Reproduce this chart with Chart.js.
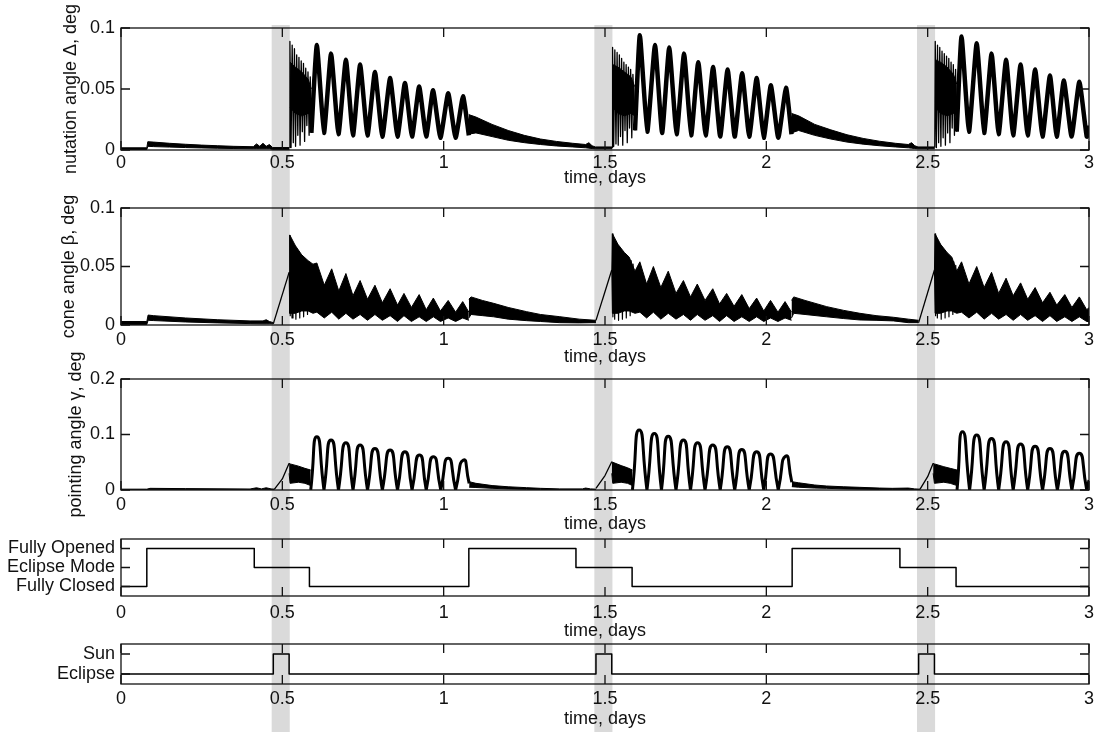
<!DOCTYPE html>
<html>
<head>
<meta charset="utf-8">
<script src="https://cdn.jsdelivr.net/npm/chart.js@4.4.1/dist/chart.umd.min.js"></script>
<style>
  body { margin: 0; background: #fff; }
  #wrap { position: relative; width: 1098px; height: 732px; overflow: hidden; }
  canvas { position: absolute; left: 0; }
</style>
</head>
<body>
<div id="wrap">
  <canvas id="shade" width="1098" height="732" style="top:0"></canvas>
  <canvas id="nut" width="1098" height="189" style="top:0"></canvas>
  <canvas id="beta" width="1098" height="183" style="top:185px"></canvas>
  <canvas id="gam" width="1098" height="190" style="top:345px"></canvas>
  <canvas id="mode" width="1098" height="117" style="top:525px"></canvas>
  <canvas id="sun" width="1098" height="100" style="top:630px"></canvas>
</div>
<script>
// ---- data (days / deg) ----
const dayTicks = [0, 0.5, 1, 1.5, 2, 2.5, 3];
const dayLabels = ['0', '0.5', '1', '1.5', '2', '2.5', '3'];

// eclipse windows (grey bands)
const shadeStart = [0.468, 1.468, 2.468];
const shadeEnd = [0.522, 1.522, 2.522];

// nutation angle: quiet stretches [t, low, high]
const nutCalm = [
  [[0,0.0004,0.0018],[0.08,0.0004,0.0018],[0.083,0.003,0.0068],[0.1,0.0028,0.0065],[0.15,0.0024,0.0055],[0.2,0.002,0.0047],[0.25,0.0017,0.004],[0.3,0.0014,0.0035],[0.35,0.0012,0.003],[0.41,0.001,0.0027],[0.42,0.001,0.005],[0.43,0.001,0.003],[0.44,0.001,0.0055],[0.45,0.001,0.003],[0.46,0.001,0.0045],[0.47,0.0005,0.002],[0.522,0.0005,0.002]],
  [[1.078,0.013,0.029],[1.1,0.014,0.027],[1.15,0.011,0.021],[1.2,0.008,0.016],[1.25,0.006,0.012],[1.3,0.0045,0.009],[1.35,0.0033,0.007],[1.4,0.0025,0.0055],[1.44,0.0018,0.0045],[1.45,0.0015,0.006],[1.46,0.0012,0.0035],[1.47,0.001,0.0025],[1.522,0.001,0.0025]],
  [[2.078,0.014,0.03],[2.1,0.016,0.028],[2.15,0.012,0.021],[2.2,0.009,0.0165],[2.25,0.0065,0.0125],[2.3,0.0048,0.0095],[2.35,0.0035,0.0072],[2.4,0.0025,0.0055],[2.44,0.0018,0.0045],[2.45,0.0015,0.006],[2.46,0.0012,0.0035],[2.47,0.001,0.0025],[2.522,0.001,0.0025]]
];
// nutation angle: solid core of the ringing right after eclipse exit
const nutCore = [
  [[0.524,0.035,0.072],[0.54,0.03,0.068],[0.56,0.028,0.064],[0.58,0.03,0.058],[0.59,0.028,0.05]],
  [[1.524,0.035,0.07],[1.54,0.03,0.068],[1.56,0.028,0.064],[1.58,0.03,0.06],[1.592,0.028,0.052]],
  [[2.524,0.035,0.074],[2.54,0.03,0.072],[2.56,0.028,0.068],[2.58,0.03,0.062],[2.59,0.028,0.054]]
];
// nutation angle: spikes of that ringing
const nutSpikes = [
  [[0.522,0.002],[0.5235,0.089],[0.527,0.002],[0.5305,0.086],[0.534,0.006],[0.5375,0.083],[0.541,0.003],[0.5445,0.078],[0.548,0.012],[0.5515,0.076],[0.555,0.004],[0.5585,0.073],[0.562,0.015],[0.5655,0.071],[0.569,0.007],[0.5725,0.067],[0.576,0.02],[0.5795,0.064],[0.583,0.012],[0.5865,0.06],[0.59,0.014]],
  [[1.522,0.002],[1.5235,0.084],[1.527,0.003],[1.5305,0.082],[1.534,0.005],[1.5375,0.08],[1.541,0.004],[1.5445,0.078],[1.548,0.011],[1.5515,0.075],[1.555,0.004],[1.5585,0.072],[1.562,0.016],[1.5655,0.07],[1.569,0.006],[1.5725,0.068],[1.576,0.018],[1.5795,0.066],[1.583,0.01],[1.5865,0.062],[1.593,0.016]],
  [[2.522,0.002],[2.5235,0.089],[2.527,0.002],[2.5305,0.086],[2.534,0.006],[2.5375,0.084],[2.541,0.003],[2.5445,0.081],[2.548,0.01],[2.5515,0.079],[2.555,0.004],[2.5585,0.077],[2.562,0.014],[2.5655,0.075],[2.569,0.006],[2.5725,0.072],[2.576,0.018],[2.5795,0.07],[2.583,0.012],[2.5865,0.066],[2.59,0.015]]
];
// nutation angle: slow oscillation, trough / peak alternating
const nutWave = [
  [[0.59,0.014],[0.607,0.086],[0.629,0.014],[0.651,0.079],[0.674,0.013],[0.697,0.074],[0.719,0.012],[0.741,0.07],[0.764,0.012],[0.787,0.064],[0.81,0.011],[0.834,0.059],[0.857,0.011],[0.88,0.055],[0.902,0.011],[0.924,0.052],[0.946,0.011],[0.967,0.049],[0.99,0.01],[1.014,0.0465],[1.037,0.01],[1.06,0.044],[1.078,0.012]],
  [[1.593,0.016],[1.608,0.094],[1.631,0.015],[1.655,0.086],[1.677,0.014],[1.699,0.084],[1.722,0.013],[1.745,0.079],[1.767,0.012],[1.789,0.072],[1.812,0.012],[1.835,0.068],[1.857,0.011],[1.88,0.066],[1.902,0.011],[1.925,0.063],[1.947,0.011],[1.97,0.059],[1.992,0.01],[2.014,0.053],[2.037,0.01],[2.061,0.051],[2.078,0.013]],
  [[2.59,0.015],[2.605,0.093],[2.628,0.015],[2.652,0.0875],[2.675,0.014],[2.698,0.079],[2.72,0.013],[2.743,0.074],[2.765,0.012],[2.788,0.07],[2.81,0.012],[2.833,0.066],[2.856,0.011],[2.879,0.061],[2.9,0.011],[2.922,0.057],[2.946,0.011],[2.97,0.056],[2.993,0.011],[3,0.02]]
];

// cone angle
const betaCalm = [
  [[0,0.0005,0.003],[0.08,0.0005,0.003],[0.084,0.004,0.0085],[0.1,0.0038,0.008],[0.2,0.0026,0.006],[0.3,0.0018,0.0045],[0.4,0.0012,0.0035],[0.44,0.001,0.0035],[0.45,0.001,0.0045],[0.46,0.001,0.003],[0.472,0.001,0.002]],
  [[1.078,0.006,0.022],[1.085,0.009,0.024],[1.12,0.008,0.021],[1.155,0.007,0.0185],[1.2,0.005,0.015],[1.257,0.0037,0.0114],[1.3,0.003,0.009],[1.36,0.002,0.0071],[1.42,0.0018,0.005],[1.472,0.002,0.004]],
  [[2.078,0.006,0.021],[2.085,0.01,0.024],[2.12,0.009,0.021],[2.187,0.007,0.0157],[2.24,0.0055,0.0125],[2.29,0.0043,0.01],[2.34,0.004,0.008],[2.394,0.0035,0.0066],[2.44,0.002,0.005],[2.472,0.002,0.004]]
];
const betaRamp = [
  [[0.472,0.001],[0.521,0.045]],
  [[1.472,0.004],[1.521,0.047]],
  [[2.472,0.002],[2.521,0.047]]
];
const betaBurst = [
  [[0.521,0.045,0.045],[0.523,0.01,0.077],[0.54,0.01,0.068],[0.56,0.012,0.06],[0.58,0.012,0.055],[0.595,0.01,0.052],[0.607,0.011,0.053],[0.63,0.006,0.034],[0.653,0.011,0.048],[0.675,0.005,0.029],[0.697,0.01,0.044],[0.719,0.005,0.025],[0.741,0.009,0.038],[0.764,0.004,0.022],[0.787,0.009,0.034],[0.81,0.004,0.019],[0.834,0.008,0.031],[0.857,0.003,0.017],[0.877,0.008,0.027],[0.9,0.003,0.015],[0.924,0.007,0.026],[0.946,0.003,0.013],[0.968,0.007,0.023],[0.99,0.003,0.012],[1.014,0.006,0.021],[1.037,0.003,0.011],[1.059,0.006,0.02],[1.078,0.004,0.011]],
  [[1.521,0.047,0.047],[1.523,0.01,0.078],[1.54,0.01,0.069],[1.56,0.012,0.062],[1.575,0.012,0.058],[1.593,0.01,0.046],[1.608,0.011,0.054],[1.629,0.006,0.035],[1.65,0.011,0.05],[1.673,0.005,0.032],[1.696,0.01,0.046],[1.72,0.005,0.027],[1.743,0.009,0.038],[1.765,0.004,0.024],[1.786,0.009,0.035],[1.81,0.004,0.021],[1.834,0.008,0.031],[1.855,0.003,0.018],[1.877,0.008,0.027],[1.9,0.003,0.016],[1.924,0.007,0.026],[1.947,0.003,0.014],[1.97,0.007,0.023],[1.992,0.003,0.012],[2.013,0.006,0.021],[2.036,0.003,0.011],[2.058,0.006,0.02],[2.078,0.004,0.011]],
  [[2.521,0.047,0.047],[2.523,0.01,0.078],[2.54,0.01,0.069],[2.56,0.012,0.062],[2.575,0.012,0.058],[2.59,0.01,0.046],[2.605,0.011,0.054],[2.628,0.006,0.035],[2.652,0.011,0.05],[2.675,0.005,0.032],[2.698,0.01,0.045],[2.72,0.005,0.027],[2.743,0.009,0.04],[2.765,0.004,0.025],[2.788,0.009,0.036],[2.81,0.004,0.022],[2.833,0.008,0.032],[2.856,0.003,0.019],[2.879,0.008,0.028],[2.9,0.003,0.017],[2.925,0.007,0.026],[2.947,0.003,0.015],[2.97,0.007,0.024],[2.993,0.003,0.013],[3,0.003,0.015]]
];
const betaSpikes = [
  [[0.523,0.077],[0.5245,0.008],[0.527,0.072],[0.53,0.006],[0.533,0.07],[0.536,0.012],[0.539,0.068],[0.542,0.005],[0.545,0.065],[0.548,0.014],[0.551,0.063],[0.554,0.006],[0.557,0.06],[0.56,0.016],[0.563,0.058],[0.566,0.007],[0.569,0.057],[0.572,0.018],[0.575,0.055],[0.578,0.009],[0.581,0.054],[0.584,0.02],[0.587,0.052],[0.59,0.016]],
  [[1.523,0.078],[1.5245,0.007],[1.527,0.073],[1.53,0.005],[1.533,0.071],[1.536,0.011],[1.539,0.069],[1.542,0.004],[1.545,0.066],[1.548,0.013],[1.551,0.064],[1.554,0.005],[1.557,0.062],[1.56,0.015],[1.563,0.06],[1.566,0.006],[1.569,0.058],[1.572,0.017],[1.575,0.057],[1.578,0.008],[1.581,0.055],[1.584,0.019],[1.587,0.052],[1.59,0.016]],
  [[2.523,0.078],[2.5245,0.008],[2.527,0.073],[2.53,0.006],[2.533,0.07],[2.536,0.012],[2.539,0.069],[2.542,0.005],[2.545,0.066],[2.548,0.013],[2.551,0.063],[2.554,0.006],[2.557,0.061],[2.56,0.015],[2.563,0.059],[2.566,0.007],[2.569,0.058],[2.572,0.018],[2.575,0.056],[2.578,0.009],[2.581,0.054],[2.584,0.02],[2.587,0.051],[2.59,0.016]]
];

// pointing angle
const gamCalm = [
  [[0,0,0.0015],[0.08,0,0.0015],[0.09,0.0005,0.003],[0.2,0.0005,0.0025],[0.4,0.0003,0.0018],[0.42,0.0003,0.004],[0.435,0.0003,0.002],[0.45,0.0003,0.004],[0.465,0.0003,0.002],[0.475,0.0003,0.0015]],
  [[1.079,0.005,0.015],[1.1,0.0045,0.012],[1.15,0.003,0.008],[1.2,0.002,0.0058],[1.257,0.0012,0.0042],[1.3,0.001,0.003],[1.36,0.0005,0.002],[1.43,0.0005,0.002],[1.44,0.0005,0.0035],[1.455,0.0005,0.002],[1.472,0.0003,0.0015]],
  [[2.079,0.006,0.015],[2.1,0.005,0.013],[2.15,0.0035,0.009],[2.187,0.003,0.0072],[2.24,0.002,0.0058],[2.29,0.0015,0.0048],[2.35,0.001,0.0035],[2.39,0.0008,0.003],[2.44,0.0005,0.0035],[2.46,0.0005,0.002],[2.476,0.0003,0.0015]]
];
const gamRamp = [
  [[0.475,0.001],[0.5,0.02],[0.521,0.048]],
  [[1.472,0.003],[1.5,0.026],[1.521,0.051]],
  [[2.476,0.001],[2.5,0.024],[2.517,0.048]]
];
const gamBurst = [
  [[0.521,0.03,0.048],[0.524,0.012,0.047],[0.55,0.014,0.043],[0.57,0.012,0.039],[0.588,0.008,0.036]],
  [[1.521,0.03,0.051],[1.524,0.012,0.05],[1.55,0.014,0.044],[1.57,0.012,0.04],[1.585,0.008,0.036]],
  [[2.517,0.03,0.048],[2.521,0.012,0.047],[2.55,0.014,0.042],[2.57,0.012,0.039],[2.591,0.008,0.036]]
];
const gamWave = [
  [[0.588,0],[0.607,0.096],[0.629,0],[0.651,0.09],[0.674,0],[0.697,0.085],[0.719,0],[0.741,0.081],[0.764,0],[0.787,0.075],[0.81,0],[0.834,0.072],[0.857,0],[0.88,0.069],[0.902,0],[0.925,0.063],[0.946,0],[0.968,0.06],[0.991,0],[1.014,0.057],[1.037,0],[1.061,0.054],[1.079,0.012]],
  [[1.585,0],[1.606,0.108],[1.63,0],[1.653,0.102],[1.675,0],[1.696,0.097],[1.72,0],[1.743,0.09],[1.765,0],[1.787,0.085],[1.81,0],[1.834,0.081],[1.857,0],[1.879,0.078],[1.902,0],[1.924,0.073],[1.947,0],[1.97,0.069],[1.992,0],[2.013,0.065],[2.037,0],[2.06,0.061],[2.079,0.014]],
  [[2.591,0],[2.608,0.105],[2.63,0],[2.652,0.099],[2.675,0],[2.698,0.093],[2.72,0],[2.743,0.087],[2.765,0],[2.788,0.083],[2.81,0],[2.833,0.079],[2.856,0],[2.879,0.075],[2.902,0],[2.925,0.07],[2.947,0],[2.97,0.066],[2.993,0],[3,0.018]]
];

// sail mode (0 closed, 1 eclipse mode, 2 opened) and sun/eclipse flag
const modeT = [0, 0.08, 0.413, 0.584, 1.078, 1.41, 1.584, 2.08, 2.414, 2.588, 3];
const modeV = [0, 2, 1, 0, 2, 1, 0, 2, 1, 0, 0];
const modeLabels = ['Fully Closed', 'Eclipse Mode', 'Fully Opened'];
const sunT = [0, 0.472, 0.521, 1.472, 1.521, 2.472, 2.521, 3];
const sunV = [0, 1, 0, 1, 0, 1, 0, 0];
const sunLabels = ['Eclipse', 'Sun'];

// ---- drawing ----
const INK = '#111';
const TICK = 9;
Chart.defaults.font.family = '"Liberation Sans", Arial, sans-serif';
Chart.defaults.font.size = 18;
Chart.defaults.color = INK;

const pts = arr => arr.map(([x, y]) => ({ x, y }));
function lineSet(arr, width, extra) {
  return Object.assign({
    data: pts(arr), borderColor: '#000', borderWidth: width, pointRadius: 0,
    fill: false, tension: 0, borderJoinStyle: 'round'
  }, extra);
}
function bandSets(seg) {
  return [
    lineSet(seg.map(p => [p[0], p[1]]), 1),
    lineSet(seg.map(p => [p[0], p[2]]), 1, { fill: '-1', backgroundColor: '#000' })
  ];
}
// repeat interior troughs so the smoothed arches get sharp feet
function cusped(arr) {
  const out = [];
  arr.forEach((p, i) => {
    out.push(p);
    if (i % 2 === 0 && i > 0 && i < arr.length - 1) out.push(p);
  });
  return out;
}

const frame = {
  id: 'frame',
  afterDatasetsDraw(chart) {
    const { ctx, chartArea: a, scales: { x, y } } = chart;
    ctx.save();
    ctx.strokeStyle = INK;
    ctx.lineWidth = 1.3;
    ctx.strokeRect(a.left, a.top, a.right - a.left, a.bottom - a.top);
    ctx.beginPath();
    x.ticks.forEach(t => {
      const px = x.getPixelForValue(t.value);
      ctx.moveTo(px, a.bottom); ctx.lineTo(px, a.bottom - TICK);
      ctx.moveTo(px, a.top); ctx.lineTo(px, a.top + TICK);
    });
    y.ticks.forEach(t => {
      const py = y.getPixelForValue(t.value);
      ctx.moveTo(a.left, py); ctx.lineTo(a.left + TICK, py);
      ctx.moveTo(a.right, py); ctx.lineTo(a.right - TICK, py);
    });
    ctx.stroke();
    ctx.restore();
  }
};

function noPad(s) { s.paddingLeft = s.paddingRight = s.paddingTop = s.paddingBottom = 0; }

function panel(id, o) {
  return new Chart(document.getElementById(id), {
    type: 'line',
    data: { datasets: o.datasets },
    options: {
      responsive: false, animation: false, events: [],
      layout: { padding: { left: 0, right: 9, top: o.padTop, bottom: 0 } },
      plugins: { legend: { display: false }, tooltip: { enabled: false } },
      scales: {
        x: {
          type: 'linear', min: 0, max: 3,
          grid: { display: false, drawTicks: false }, border: { display: false },
          afterBuildTicks: s => { s.ticks = dayTicks.map(v => ({ value: v })); },
          afterFit: s => { s.height = o.xH; noPad(s); },
          ticks: { padding: o.xPad, maxRotation: 0, autoSkip: false, callback: (v, i) => dayLabels[i] },
          title: { display: true, text: 'time, days', padding: { top: 0, bottom: 0 } }
        },
        y: {
          type: 'linear', min: o.yMin, max: o.yMax,
          grid: { display: false, drawTicks: false }, border: { display: false },
          afterBuildTicks: s => { s.ticks = o.yTicks.map(v => ({ value: v })); },
          afterFit: s => { s.width = 121; noPad(s); },
          ticks: { padding: 6, autoSkip: false, callback: (v, i) => o.yLabels[i] },
          title: o.yTitle
            ? { display: true, text: o.yTitle, padding: { top: o.yTitlePad, bottom: 0 } }
            : { display: false }
        }
      }
    },
    plugins: [frame]
  });
}

// grey eclipse bands behind all panels
new Chart(document.getElementById('shade'), {
  type: 'bar',
  data: {
    labels: ['eclipse'],
    datasets: shadeStart.map((s, i) => ({
      data: [[s, shadeEnd[i]]], backgroundColor: '#dadada', borderWidth: 0,
      barPercentage: 1, categoryPercentage: 1, grouped: false
    }))
  },
  options: {
    indexAxis: 'y', responsive: false, animation: false, events: [],
    layout: { padding: { left: 121, right: 9, top: 25, bottom: 0 } },
    plugins: { legend: { display: false }, tooltip: { enabled: false } },
    scales: { x: { type: 'linear', min: 0, max: 3, display: false }, y: { display: false } }
  }
});

panel('nut', {
  padTop: 28, xH: 39, xPad: 2,
  yMin: 0, yMax: 0.1, yTicks: [0, 0.05, 0.1], yLabels: ['0', '0.05', '0.1'],
  yTitle: 'nutation angle \u0394, deg', yTitlePad: 60,
  datasets: [
    ...nutCalm.flatMap(bandSets),
    ...nutCore.flatMap(bandSets),
    ...nutSpikes.map(s => lineSet(s, 1.3)),
    ...nutWave.map(s => lineSet(s, 4.5, { tension: 0.15 }))
  ]
});

panel('beta', {
  padTop: 23, xH: 43, xPad: 4,
  yMin: 0, yMax: 0.1, yTicks: [0, 0.05, 0.1], yLabels: ['0', '0.05', '0.1'],
  yTitle: 'cone angle \u03b2, deg', yTitlePad: 58,
  datasets: [
    ...betaCalm.flatMap(bandSets),
    ...betaRamp.map(s => lineSet(s, 1.3)),
    ...betaBurst.flatMap(bandSets),
    ...betaSpikes.map(s => lineSet(s, 1.2))
  ]
});

panel('gam', {
  padTop: 34, xH: 45, xPad: 4,
  yMin: 0, yMax: 0.2, yTicks: [0, 0.1, 0.2], yLabels: ['0', '0.1', '0.2'],
  yTitle: 'pointing angle \u03b3, deg', yTitlePad: 65,
  datasets: [
    ...gamCalm.flatMap(bandSets),
    ...gamRamp.map(s => lineSet(s, 1.3)),
    ...gamBurst.flatMap(bandSets),
    ...gamWave.map(s => lineSet(cusped(s), 3, { tension: 0.7 }))
  ]
});

panel('mode', {
  padTop: 14, xH: 46, xPad: 6,
  yMin: -0.5, yMax: 2.5, yTicks: [0, 1, 2], yLabels: modeLabels,
  datasets: [lineSet(modeT.map((t, i) => [t, modeV[i]]), 1.5, { stepped: true })]
});

panel('sun', {
  padTop: 14, xH: 46, xPad: 4,
  yMin: -0.5, yMax: 1.5, yTicks: [0, 1], yLabels: sunLabels,
  datasets: [lineSet(sunT.map((t, i) => [t, sunV[i]]), 1.5, { stepped: true })]
});
</script>
</body>
</html>
